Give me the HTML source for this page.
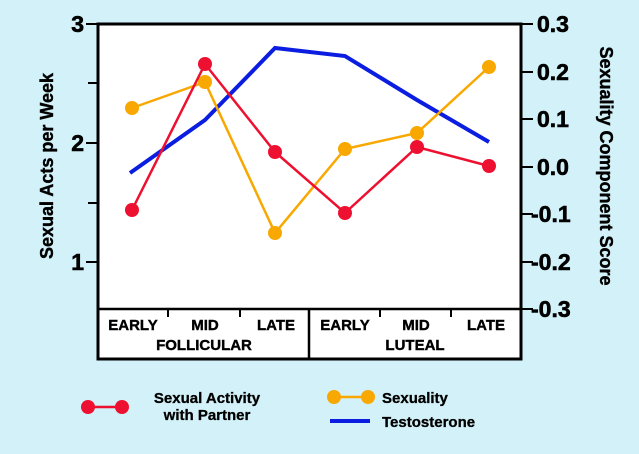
<!DOCTYPE html>
<html><head><meta charset="utf-8"><style>
html,body{margin:0;padding:0;background:#d2f1f8;}
svg{display:block;font-family:"Liberation Sans",Arial,sans-serif;font-weight:bold;}
</style></head><body>
<svg width="639" height="454" viewBox="0 0 639 454" xmlns="http://www.w3.org/2000/svg">
<rect width="639" height="454" fill="#d2f1f8"/>
<rect x="98" y="24" width="423" height="335" fill="#fff" stroke="#000" stroke-width="3"/>
<line x1="98" y1="309" x2="521" y2="309" stroke="#000" stroke-width="2.5"/>
<line x1="309" y1="309" x2="309" y2="359" stroke="#000" stroke-width="2.5"/>
<g stroke="#000" stroke-width="2">
<line x1="168" y1="309" x2="168" y2="317"/><line x1="240" y1="309" x2="240" y2="317"/>
<line x1="380" y1="309" x2="380" y2="317"/><line x1="451" y1="309" x2="451" y2="317"/>
<line x1="86" y1="24" x2="98" y2="24"/><line x1="88" y1="83" x2="98" y2="83"/>
<line x1="86" y1="143" x2="98" y2="143"/><line x1="88" y1="203" x2="98" y2="203"/>
<line x1="86" y1="262" x2="98" y2="262"/>
<line x1="521" y1="24" x2="533" y2="24"/><line x1="521" y1="72" x2="533" y2="72"/>
<line x1="521" y1="119" x2="533" y2="119"/><line x1="521" y1="167" x2="533" y2="167"/>
<line x1="521" y1="214" x2="533" y2="214"/><line x1="521" y1="262" x2="533" y2="262"/>
<line x1="521" y1="309" x2="533" y2="309"/>
</g>
<g font-size="23" text-anchor="end" stroke="#000" stroke-width="0.6">
<text x="84" y="32">3</text><text x="84" y="151">2</text><text x="84" y="270">1</text>
</g>
<g font-size="23" stroke="#000" stroke-width="0.6">
<text x="537" y="32">0.3</text><text x="537" y="80">0.2</text><text x="537" y="127">0.1</text>
<text x="537" y="175">0.0</text><text x="531" y="222">-0.1</text><text x="531" y="270">-0.2</text>
<text x="531" y="317">-0.3</text>
</g>
<text transform="translate(53,166) rotate(-90)" font-size="18" text-anchor="middle" stroke="#000" stroke-width="0.4">Sexual Acts per Week</text>
<text transform="translate(600,166) rotate(90)" font-size="18" text-anchor="middle" stroke="#000" stroke-width="0.4">Sexuality Component Score</text>
<g font-size="15" text-anchor="middle" stroke="#000" stroke-width="0.4">
<text x="133" y="330">EARLY</text><text x="205" y="330">MID</text><text x="276" y="330">LATE</text>
<text x="345" y="330">EARLY</text><text x="416" y="330">MID</text><text x="486" y="330">LATE</text>
<text x="204" y="350">FOLLICULAR</text><text x="415" y="350">LUTEAL</text>
</g>
<polyline points="130,173 205,120 275,48 345,56 417,100 489,142" fill="none" stroke="#0a1de0" stroke-width="4"/>
<polyline points="132,108 205,82 275,233 345,149 417,133 489,67" fill="none" stroke="#f8a800" stroke-width="2.5"/>
<g fill="#f8a800"><circle cx="132" cy="108" r="7"/><circle cx="205" cy="82" r="7"/><circle cx="275" cy="233" r="7"/><circle cx="345" cy="149" r="7"/><circle cx="417" cy="133" r="7"/><circle cx="489" cy="67" r="7"/></g>
<polyline points="132,210 205,64 275,152 345,213 417,147 489,166" fill="none" stroke="#ee1030" stroke-width="2.5"/>
<g fill="#ee1030"><circle cx="132" cy="210" r="7"/><circle cx="205" cy="64" r="7"/><circle cx="275" cy="152" r="7"/><circle cx="345" cy="213" r="7"/><circle cx="417" cy="147" r="7"/><circle cx="489" cy="166" r="7"/></g>
<line x1="88" y1="407" x2="122" y2="407" stroke="#ee1030" stroke-width="2.5"/>
<circle cx="88" cy="407" r="7" fill="#ee1030"/><circle cx="122" cy="407" r="7" fill="#ee1030"/>
<g font-size="15" text-anchor="middle" stroke="#000" stroke-width="0.3"><text x="207" y="403">Sexual Activity</text><text x="207" y="420">with Partner</text></g>
<line x1="334" y1="397" x2="368" y2="397" stroke="#f8a800" stroke-width="2.5"/>
<circle cx="334" cy="397" r="7" fill="#f8a800"/><circle cx="368" cy="397" r="7" fill="#f8a800"/>
<text x="382" y="403" font-size="15" stroke="#000" stroke-width="0.3">Sexuality</text>
<line x1="330" y1="421" x2="370" y2="421" stroke="#0a1de0" stroke-width="4"/>
<text x="382" y="427" font-size="15" stroke="#000" stroke-width="0.3">Testosterone</text>
</svg>
</body></html>
